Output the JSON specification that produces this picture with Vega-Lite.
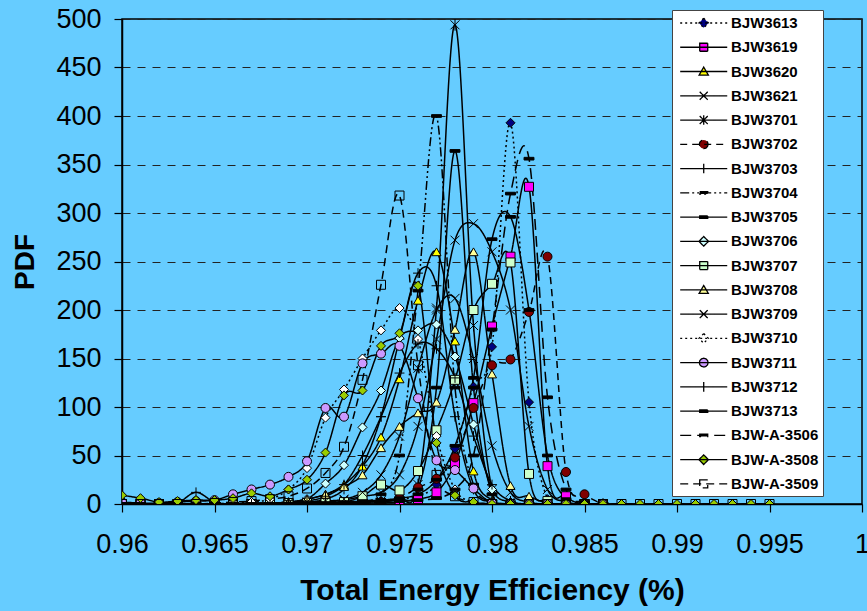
{
"$schema":"https://vega.github.io/schema/vega-lite/v6.json",
"width":740,"height":485,
"autosize":{"type":"none"},
"padding":{"left":122,"top":19,"right":5,"bottom":107},
"background":"#66ccff",
"config":{"view":{"stroke":"black","strokeWidth":1.5},"font":"Liberation Sans"},
"data":{"values":[
{"s":"BJW3613","x":0.96,"y":0},{"s":"BJW3613","x":0.961,"y":0},{"s":"BJW3613","x":0.962,"y":0},{"s":"BJW3613","x":0.963,"y":0},{"s":"BJW3613","x":0.964,"y":0},{"s":"BJW3613","x":0.965,"y":0},{"s":"BJW3613","x":0.966,"y":0},{"s":"BJW3613","x":0.967,"y":0},{"s":"BJW3613","x":0.968,"y":0},{"s":"BJW3613","x":0.969,"y":0},{"s":"BJW3613","x":0.97,"y":1},{"s":"BJW3613","x":0.971,"y":1},{"s":"BJW3613","x":0.972,"y":2},{"s":"BJW3613","x":0.973,"y":2},{"s":"BJW3613","x":0.974,"y":3},{"s":"BJW3613","x":0.975,"y":5},{"s":"BJW3613","x":0.976,"y":8},{"s":"BJW3613","x":0.977,"y":20},{"s":"BJW3613","x":0.978,"y":57},{"s":"BJW3613","x":0.979,"y":121},{"s":"BJW3613","x":0.98,"y":162},{"s":"BJW3613","x":0.981,"y":393},{"s":"BJW3613","x":0.982,"y":105},{"s":"BJW3613","x":0.983,"y":5},{"s":"BJW3613","x":0.984,"y":1},{"s":"BJW3613","x":0.985,"y":0},{"s":"BJW3613","x":0.986,"y":0},
{"s":"BJW3619","x":0.96,"y":0},{"s":"BJW3619","x":0.961,"y":0},{"s":"BJW3619","x":0.962,"y":0},{"s":"BJW3619","x":0.963,"y":0},{"s":"BJW3619","x":0.964,"y":0},{"s":"BJW3619","x":0.965,"y":0},{"s":"BJW3619","x":0.966,"y":0},{"s":"BJW3619","x":0.967,"y":0},{"s":"BJW3619","x":0.968,"y":0},{"s":"BJW3619","x":0.969,"y":0},{"s":"BJW3619","x":0.97,"y":1},{"s":"BJW3619","x":0.971,"y":1},{"s":"BJW3619","x":0.972,"y":1},{"s":"BJW3619","x":0.973,"y":1},{"s":"BJW3619","x":0.974,"y":1},{"s":"BJW3619","x":0.975,"y":2},{"s":"BJW3619","x":0.976,"y":5},{"s":"BJW3619","x":0.977,"y":12},{"s":"BJW3619","x":0.978,"y":42},{"s":"BJW3619","x":0.979,"y":104},{"s":"BJW3619","x":0.98,"y":183},{"s":"BJW3619","x":0.981,"y":255},{"s":"BJW3619","x":0.982,"y":327},{"s":"BJW3619","x":0.983,"y":39},{"s":"BJW3619","x":0.984,"y":8},{"s":"BJW3619","x":0.985,"y":0},{"s":"BJW3619","x":0.986,"y":0},
{"s":"BJW3620","x":0.96,"y":0},{"s":"BJW3620","x":0.961,"y":0},{"s":"BJW3620","x":0.962,"y":0},{"s":"BJW3620","x":0.963,"y":0},{"s":"BJW3620","x":0.964,"y":0},{"s":"BJW3620","x":0.965,"y":0},{"s":"BJW3620","x":0.966,"y":0},{"s":"BJW3620","x":0.967,"y":1},{"s":"BJW3620","x":0.968,"y":1},{"s":"BJW3620","x":0.969,"y":2},{"s":"BJW3620","x":0.97,"y":5},{"s":"BJW3620","x":0.971,"y":10},{"s":"BJW3620","x":0.972,"y":20},{"s":"BJW3620","x":0.973,"y":39},{"s":"BJW3620","x":0.974,"y":69},{"s":"BJW3620","x":0.975,"y":129},{"s":"BJW3620","x":0.976,"y":210},{"s":"BJW3620","x":0.977,"y":260},{"s":"BJW3620","x":0.978,"y":168},{"s":"BJW3620","x":0.979,"y":34},{"s":"BJW3620","x":0.98,"y":4},{"s":"BJW3620","x":0.981,"y":0},{"s":"BJW3620","x":0.982,"y":0},{"s":"BJW3620","x":0.983,"y":0},{"s":"BJW3620","x":0.984,"y":0},{"s":"BJW3620","x":0.985,"y":0},{"s":"BJW3620","x":0.986,"y":0},
{"s":"BJW3621","x":0.96,"y":0},{"s":"BJW3621","x":0.961,"y":0},{"s":"BJW3621","x":0.962,"y":0},{"s":"BJW3621","x":0.963,"y":0},{"s":"BJW3621","x":0.964,"y":0},{"s":"BJW3621","x":0.965,"y":0},{"s":"BJW3621","x":0.966,"y":0},{"s":"BJW3621","x":0.967,"y":0},{"s":"BJW3621","x":0.968,"y":0},{"s":"BJW3621","x":0.969,"y":0},{"s":"BJW3621","x":0.97,"y":1},{"s":"BJW3621","x":0.971,"y":2},{"s":"BJW3621","x":0.972,"y":4},{"s":"BJW3621","x":0.973,"y":8},{"s":"BJW3621","x":0.974,"y":12},{"s":"BJW3621","x":0.975,"y":30},{"s":"BJW3621","x":0.976,"y":80},{"s":"BJW3621","x":0.977,"y":170},{"s":"BJW3621","x":0.978,"y":272},{"s":"BJW3621","x":0.979,"y":289},{"s":"BJW3621","x":0.98,"y":260},{"s":"BJW3621","x":0.981,"y":200},{"s":"BJW3621","x":0.982,"y":80},{"s":"BJW3621","x":0.983,"y":15},{"s":"BJW3621","x":0.984,"y":2},{"s":"BJW3621","x":0.985,"y":0},{"s":"BJW3621","x":0.986,"y":0},
{"s":"BJW3701","x":0.96,"y":0},{"s":"BJW3701","x":0.961,"y":0},{"s":"BJW3701","x":0.962,"y":0},{"s":"BJW3701","x":0.963,"y":0},{"s":"BJW3701","x":0.964,"y":0},{"s":"BJW3701","x":0.965,"y":0},{"s":"BJW3701","x":0.966,"y":0},{"s":"BJW3701","x":0.967,"y":0},{"s":"BJW3701","x":0.968,"y":0},{"s":"BJW3701","x":0.969,"y":0},{"s":"BJW3701","x":0.97,"y":0},{"s":"BJW3701","x":0.971,"y":1},{"s":"BJW3701","x":0.972,"y":1},{"s":"BJW3701","x":0.973,"y":2},{"s":"BJW3701","x":0.974,"y":3},{"s":"BJW3701","x":0.975,"y":5},{"s":"BJW3701","x":0.976,"y":20},{"s":"BJW3701","x":0.977,"y":202},{"s":"BJW3701","x":0.978,"y":494},{"s":"BJW3701","x":0.979,"y":184},{"s":"BJW3701","x":0.98,"y":15},{"s":"BJW3701","x":0.981,"y":2},{"s":"BJW3701","x":0.982,"y":0},{"s":"BJW3701","x":0.983,"y":0},{"s":"BJW3701","x":0.984,"y":0},{"s":"BJW3701","x":0.985,"y":0},{"s":"BJW3701","x":0.986,"y":0},
{"s":"BJW3702","x":0.96,"y":0},{"s":"BJW3702","x":0.961,"y":0},{"s":"BJW3702","x":0.962,"y":0},{"s":"BJW3702","x":0.963,"y":0},{"s":"BJW3702","x":0.964,"y":0},{"s":"BJW3702","x":0.965,"y":0},{"s":"BJW3702","x":0.966,"y":0},{"s":"BJW3702","x":0.967,"y":0},{"s":"BJW3702","x":0.968,"y":0},{"s":"BJW3702","x":0.969,"y":0},{"s":"BJW3702","x":0.97,"y":0},{"s":"BJW3702","x":0.971,"y":1},{"s":"BJW3702","x":0.972,"y":1},{"s":"BJW3702","x":0.973,"y":1},{"s":"BJW3702","x":0.974,"y":2},{"s":"BJW3702","x":0.975,"y":6},{"s":"BJW3702","x":0.976,"y":17},{"s":"BJW3702","x":0.977,"y":26},{"s":"BJW3702","x":0.978,"y":48},{"s":"BJW3702","x":0.979,"y":99},{"s":"BJW3702","x":0.98,"y":143},{"s":"BJW3702","x":0.981,"y":149},{"s":"BJW3702","x":0.982,"y":198},{"s":"BJW3702","x":0.983,"y":255},{"s":"BJW3702","x":0.984,"y":33},{"s":"BJW3702","x":0.985,"y":10},{"s":"BJW3702","x":0.986,"y":0},
{"s":"BJW3703","x":0.96,"y":0},{"s":"BJW3703","x":0.961,"y":0},{"s":"BJW3703","x":0.962,"y":0},{"s":"BJW3703","x":0.963,"y":1},{"s":"BJW3703","x":0.964,"y":12},{"s":"BJW3703","x":0.965,"y":2},{"s":"BJW3703","x":0.966,"y":0},{"s":"BJW3703","x":0.967,"y":0},{"s":"BJW3703","x":0.968,"y":0},{"s":"BJW3703","x":0.969,"y":1},{"s":"BJW3703","x":0.97,"y":2},{"s":"BJW3703","x":0.971,"y":5},{"s":"BJW3703","x":0.972,"y":15},{"s":"BJW3703","x":0.973,"y":40},{"s":"BJW3703","x":0.974,"y":90},{"s":"BJW3703","x":0.975,"y":170},{"s":"BJW3703","x":0.976,"y":238},{"s":"BJW3703","x":0.977,"y":225},{"s":"BJW3703","x":0.978,"y":90},{"s":"BJW3703","x":0.979,"y":15},{"s":"BJW3703","x":0.98,"y":2},{"s":"BJW3703","x":0.981,"y":0},{"s":"BJW3703","x":0.982,"y":0},{"s":"BJW3703","x":0.983,"y":0},{"s":"BJW3703","x":0.984,"y":0},{"s":"BJW3703","x":0.985,"y":0},{"s":"BJW3703","x":0.986,"y":0},
{"s":"BJW3704","x":0.96,"y":0},{"s":"BJW3704","x":0.961,"y":0},{"s":"BJW3704","x":0.962,"y":0},{"s":"BJW3704","x":0.963,"y":0},{"s":"BJW3704","x":0.964,"y":0},{"s":"BJW3704","x":0.965,"y":0},{"s":"BJW3704","x":0.966,"y":0},{"s":"BJW3704","x":0.967,"y":0},{"s":"BJW3704","x":0.968,"y":0},{"s":"BJW3704","x":0.969,"y":0},{"s":"BJW3704","x":0.97,"y":0},{"s":"BJW3704","x":0.971,"y":1},{"s":"BJW3704","x":0.972,"y":2},{"s":"BJW3704","x":0.973,"y":3},{"s":"BJW3704","x":0.974,"y":10},{"s":"BJW3704","x":0.975,"y":50},{"s":"BJW3704","x":0.976,"y":220},{"s":"BJW3704","x":0.977,"y":400},{"s":"BJW3704","x":0.978,"y":120},{"s":"BJW3704","x":0.979,"y":20},{"s":"BJW3704","x":0.98,"y":3},{"s":"BJW3704","x":0.981,"y":0},{"s":"BJW3704","x":0.982,"y":0},{"s":"BJW3704","x":0.983,"y":0},{"s":"BJW3704","x":0.984,"y":0},{"s":"BJW3704","x":0.985,"y":0},{"s":"BJW3704","x":0.986,"y":0},
{"s":"BJW3705","x":0.96,"y":0},{"s":"BJW3705","x":0.961,"y":0},{"s":"BJW3705","x":0.962,"y":0},{"s":"BJW3705","x":0.963,"y":0},{"s":"BJW3705","x":0.964,"y":0},{"s":"BJW3705","x":0.965,"y":0},{"s":"BJW3705","x":0.966,"y":0},{"s":"BJW3705","x":0.967,"y":0},{"s":"BJW3705","x":0.968,"y":0},{"s":"BJW3705","x":0.969,"y":0},{"s":"BJW3705","x":0.97,"y":0},{"s":"BJW3705","x":0.971,"y":1},{"s":"BJW3705","x":0.972,"y":1},{"s":"BJW3705","x":0.973,"y":2},{"s":"BJW3705","x":0.974,"y":3},{"s":"BJW3705","x":0.975,"y":5},{"s":"BJW3705","x":0.976,"y":15},{"s":"BJW3705","x":0.977,"y":120},{"s":"BJW3705","x":0.978,"y":364},{"s":"BJW3705","x":0.979,"y":120},{"s":"BJW3705","x":0.98,"y":10},{"s":"BJW3705","x":0.981,"y":1},{"s":"BJW3705","x":0.982,"y":0},{"s":"BJW3705","x":0.983,"y":0},{"s":"BJW3705","x":0.984,"y":0},{"s":"BJW3705","x":0.985,"y":0},{"s":"BJW3705","x":0.986,"y":0},
{"s":"BJW3706","x":0.96,"y":0},{"s":"BJW3706","x":0.961,"y":0},{"s":"BJW3706","x":0.962,"y":0},{"s":"BJW3706","x":0.963,"y":0},{"s":"BJW3706","x":0.964,"y":0},{"s":"BJW3706","x":0.965,"y":0},{"s":"BJW3706","x":0.966,"y":0},{"s":"BJW3706","x":0.967,"y":1},{"s":"BJW3706","x":0.968,"y":1},{"s":"BJW3706","x":0.969,"y":2},{"s":"BJW3706","x":0.97,"y":5},{"s":"BJW3706","x":0.971,"y":21},{"s":"BJW3706","x":0.972,"y":40},{"s":"BJW3706","x":0.973,"y":79},{"s":"BJW3706","x":0.974,"y":117},{"s":"BJW3706","x":0.975,"y":171},{"s":"BJW3706","x":0.976,"y":179},{"s":"BJW3706","x":0.977,"y":185},{"s":"BJW3706","x":0.978,"y":152},{"s":"BJW3706","x":0.979,"y":82},{"s":"BJW3706","x":0.98,"y":15},{"s":"BJW3706","x":0.981,"y":2},{"s":"BJW3706","x":0.982,"y":0},{"s":"BJW3706","x":0.983,"y":0},{"s":"BJW3706","x":0.984,"y":0},{"s":"BJW3706","x":0.985,"y":0},{"s":"BJW3706","x":0.986,"y":0},
{"s":"BJW3707","x":0.96,"y":0},{"s":"BJW3707","x":0.961,"y":0},{"s":"BJW3707","x":0.962,"y":0},{"s":"BJW3707","x":0.963,"y":0},{"s":"BJW3707","x":0.964,"y":0},{"s":"BJW3707","x":0.965,"y":0},{"s":"BJW3707","x":0.966,"y":0},{"s":"BJW3707","x":0.967,"y":0},{"s":"BJW3707","x":0.968,"y":0},{"s":"BJW3707","x":0.969,"y":1},{"s":"BJW3707","x":0.97,"y":1},{"s":"BJW3707","x":0.971,"y":1},{"s":"BJW3707","x":0.972,"y":2},{"s":"BJW3707","x":0.973,"y":8},{"s":"BJW3707","x":0.974,"y":20},{"s":"BJW3707","x":0.975,"y":14},{"s":"BJW3707","x":0.976,"y":34},{"s":"BJW3707","x":0.977,"y":76},{"s":"BJW3707","x":0.978,"y":128},{"s":"BJW3707","x":0.979,"y":200},{"s":"BJW3707","x":0.98,"y":227},{"s":"BJW3707","x":0.981,"y":249},{"s":"BJW3707","x":0.982,"y":31},{"s":"BJW3707","x":0.983,"y":3},{"s":"BJW3707","x":0.984,"y":0},{"s":"BJW3707","x":0.985,"y":0},{"s":"BJW3707","x":0.986,"y":0},
{"s":"BJW3708","x":0.96,"y":0},{"s":"BJW3708","x":0.961,"y":0},{"s":"BJW3708","x":0.962,"y":0},{"s":"BJW3708","x":0.963,"y":0},{"s":"BJW3708","x":0.964,"y":0},{"s":"BJW3708","x":0.965,"y":0},{"s":"BJW3708","x":0.966,"y":0},{"s":"BJW3708","x":0.967,"y":0},{"s":"BJW3708","x":0.968,"y":1},{"s":"BJW3708","x":0.969,"y":2},{"s":"BJW3708","x":0.97,"y":5},{"s":"BJW3708","x":0.971,"y":10},{"s":"BJW3708","x":0.972,"y":18},{"s":"BJW3708","x":0.973,"y":30},{"s":"BJW3708","x":0.974,"y":58},{"s":"BJW3708","x":0.975,"y":80},{"s":"BJW3708","x":0.976,"y":94},{"s":"BJW3708","x":0.977,"y":105},{"s":"BJW3708","x":0.978,"y":180},{"s":"BJW3708","x":0.979,"y":260},{"s":"BJW3708","x":0.98,"y":134},{"s":"BJW3708","x":0.981,"y":19},{"s":"BJW3708","x":0.982,"y":8},{"s":"BJW3708","x":0.983,"y":1},{"s":"BJW3708","x":0.984,"y":0},{"s":"BJW3708","x":0.985,"y":0},{"s":"BJW3708","x":0.986,"y":0},
{"s":"BJW3709","x":0.96,"y":0},{"s":"BJW3709","x":0.961,"y":0},{"s":"BJW3709","x":0.962,"y":0},{"s":"BJW3709","x":0.963,"y":0},{"s":"BJW3709","x":0.964,"y":0},{"s":"BJW3709","x":0.965,"y":0},{"s":"BJW3709","x":0.966,"y":0},{"s":"BJW3709","x":0.967,"y":0},{"s":"BJW3709","x":0.968,"y":0},{"s":"BJW3709","x":0.969,"y":1},{"s":"BJW3709","x":0.97,"y":2},{"s":"BJW3709","x":0.971,"y":3},{"s":"BJW3709","x":0.972,"y":5},{"s":"BJW3709","x":0.973,"y":12},{"s":"BJW3709","x":0.974,"y":30},{"s":"BJW3709","x":0.975,"y":70},{"s":"BJW3709","x":0.976,"y":140},{"s":"BJW3709","x":0.977,"y":200},{"s":"BJW3709","x":0.978,"y":212},{"s":"BJW3709","x":0.979,"y":150},{"s":"BJW3709","x":0.98,"y":60},{"s":"BJW3709","x":0.981,"y":12},{"s":"BJW3709","x":0.982,"y":2},{"s":"BJW3709","x":0.983,"y":0},{"s":"BJW3709","x":0.984,"y":0},{"s":"BJW3709","x":0.985,"y":0},{"s":"BJW3709","x":0.986,"y":0},
{"s":"BJW3710","x":0.96,"y":0},{"s":"BJW3710","x":0.961,"y":0},{"s":"BJW3710","x":0.962,"y":0},{"s":"BJW3710","x":0.963,"y":0},{"s":"BJW3710","x":0.964,"y":0},{"s":"BJW3710","x":0.965,"y":0},{"s":"BJW3710","x":0.966,"y":1},{"s":"BJW3710","x":0.967,"y":2},{"s":"BJW3710","x":0.968,"y":5},{"s":"BJW3710","x":0.969,"y":15},{"s":"BJW3710","x":0.97,"y":37},{"s":"BJW3710","x":0.971,"y":89},{"s":"BJW3710","x":0.972,"y":118},{"s":"BJW3710","x":0.973,"y":150},{"s":"BJW3710","x":0.974,"y":179},{"s":"BJW3710","x":0.975,"y":202},{"s":"BJW3710","x":0.976,"y":170},{"s":"BJW3710","x":0.977,"y":70},{"s":"BJW3710","x":0.978,"y":15},{"s":"BJW3710","x":0.979,"y":2},{"s":"BJW3710","x":0.98,"y":0},{"s":"BJW3710","x":0.981,"y":0},{"s":"BJW3710","x":0.982,"y":0},{"s":"BJW3710","x":0.983,"y":0},{"s":"BJW3710","x":0.984,"y":0},{"s":"BJW3710","x":0.985,"y":0},{"s":"BJW3710","x":0.986,"y":0},
{"s":"BJW3711","x":0.96,"y":2},{"s":"BJW3711","x":0.961,"y":1},{"s":"BJW3711","x":0.962,"y":1},{"s":"BJW3711","x":0.963,"y":2},{"s":"BJW3711","x":0.964,"y":3},{"s":"BJW3711","x":0.965,"y":4},{"s":"BJW3711","x":0.966,"y":10},{"s":"BJW3711","x":0.967,"y":15},{"s":"BJW3711","x":0.968,"y":20},{"s":"BJW3711","x":0.969,"y":28},{"s":"BJW3711","x":0.97,"y":44},{"s":"BJW3711","x":0.971,"y":99},{"s":"BJW3711","x":0.972,"y":90},{"s":"BJW3711","x":0.973,"y":145},{"s":"BJW3711","x":0.974,"y":155},{"s":"BJW3711","x":0.975,"y":163},{"s":"BJW3711","x":0.976,"y":109},{"s":"BJW3711","x":0.977,"y":45},{"s":"BJW3711","x":0.978,"y":35},{"s":"BJW3711","x":0.979,"y":16},{"s":"BJW3711","x":0.98,"y":1},{"s":"BJW3711","x":0.981,"y":0},{"s":"BJW3711","x":0.982,"y":0},{"s":"BJW3711","x":0.983,"y":0},{"s":"BJW3711","x":0.984,"y":0},{"s":"BJW3711","x":0.985,"y":0},{"s":"BJW3711","x":0.986,"y":0},
{"s":"BJW3712","x":0.96,"y":0},{"s":"BJW3712","x":0.961,"y":0},{"s":"BJW3712","x":0.962,"y":0},{"s":"BJW3712","x":0.963,"y":0},{"s":"BJW3712","x":0.964,"y":0},{"s":"BJW3712","x":0.965,"y":0},{"s":"BJW3712","x":0.966,"y":0},{"s":"BJW3712","x":0.967,"y":0},{"s":"BJW3712","x":0.968,"y":0},{"s":"BJW3712","x":0.969,"y":1},{"s":"BJW3712","x":0.97,"y":3},{"s":"BJW3712","x":0.971,"y":8},{"s":"BJW3712","x":0.972,"y":20},{"s":"BJW3712","x":0.973,"y":50},{"s":"BJW3712","x":0.974,"y":90},{"s":"BJW3712","x":0.975,"y":135},{"s":"BJW3712","x":0.976,"y":165},{"s":"BJW3712","x":0.977,"y":160},{"s":"BJW3712","x":0.978,"y":130},{"s":"BJW3712","x":0.979,"y":70},{"s":"BJW3712","x":0.98,"y":20},{"s":"BJW3712","x":0.981,"y":3},{"s":"BJW3712","x":0.982,"y":0},{"s":"BJW3712","x":0.983,"y":0},{"s":"BJW3712","x":0.984,"y":0},{"s":"BJW3712","x":0.985,"y":0},{"s":"BJW3712","x":0.986,"y":0},
{"s":"BJW3713","x":0.96,"y":0},{"s":"BJW3713","x":0.961,"y":0},{"s":"BJW3713","x":0.962,"y":0},{"s":"BJW3713","x":0.963,"y":0},{"s":"BJW3713","x":0.964,"y":0},{"s":"BJW3713","x":0.965,"y":0},{"s":"BJW3713","x":0.966,"y":0},{"s":"BJW3713","x":0.967,"y":0},{"s":"BJW3713","x":0.968,"y":0},{"s":"BJW3713","x":0.969,"y":0},{"s":"BJW3713","x":0.97,"y":1},{"s":"BJW3713","x":0.971,"y":1},{"s":"BJW3713","x":0.972,"y":2},{"s":"BJW3713","x":0.973,"y":3},{"s":"BJW3713","x":0.974,"y":4},{"s":"BJW3713","x":0.975,"y":6},{"s":"BJW3713","x":0.976,"y":10},{"s":"BJW3713","x":0.977,"y":25},{"s":"BJW3713","x":0.978,"y":60},{"s":"BJW3713","x":0.979,"y":130},{"s":"BJW3713","x":0.98,"y":273},{"s":"BJW3713","x":0.981,"y":296},{"s":"BJW3713","x":0.982,"y":200},{"s":"BJW3713","x":0.983,"y":50},{"s":"BJW3713","x":0.984,"y":5},{"s":"BJW3713","x":0.985,"y":0},{"s":"BJW3713","x":0.986,"y":0},
{"s":"BJW-A-3506","x":0.96,"y":0},{"s":"BJW-A-3506","x":0.961,"y":0},{"s":"BJW-A-3506","x":0.962,"y":0},{"s":"BJW-A-3506","x":0.963,"y":0},{"s":"BJW-A-3506","x":0.964,"y":0},{"s":"BJW-A-3506","x":0.965,"y":0},{"s":"BJW-A-3506","x":0.966,"y":0},{"s":"BJW-A-3506","x":0.967,"y":0},{"s":"BJW-A-3506","x":0.968,"y":0},{"s":"BJW-A-3506","x":0.969,"y":0},{"s":"BJW-A-3506","x":0.97,"y":0},{"s":"BJW-A-3506","x":0.971,"y":0},{"s":"BJW-A-3506","x":0.972,"y":1},{"s":"BJW-A-3506","x":0.973,"y":1},{"s":"BJW-A-3506","x":0.974,"y":2},{"s":"BJW-A-3506","x":0.975,"y":3},{"s":"BJW-A-3506","x":0.976,"y":4},{"s":"BJW-A-3506","x":0.977,"y":6},{"s":"BJW-A-3506","x":0.978,"y":15},{"s":"BJW-A-3506","x":0.979,"y":50},{"s":"BJW-A-3506","x":0.98,"y":180},{"s":"BJW-A-3506","x":0.981,"y":320},{"s":"BJW-A-3506","x":0.982,"y":356},{"s":"BJW-A-3506","x":0.983,"y":110},{"s":"BJW-A-3506","x":0.984,"y":15},{"s":"BJW-A-3506","x":0.985,"y":2},{"s":"BJW-A-3506","x":0.986,"y":0},
{"s":"BJW-A-3508","x":0.96,"y":9},{"s":"BJW-A-3508","x":0.961,"y":6},{"s":"BJW-A-3508","x":0.962,"y":2},{"s":"BJW-A-3508","x":0.963,"y":3},{"s":"BJW-A-3508","x":0.964,"y":4},{"s":"BJW-A-3508","x":0.965,"y":4},{"s":"BJW-A-3508","x":0.966,"y":6},{"s":"BJW-A-3508","x":0.967,"y":11},{"s":"BJW-A-3508","x":0.968,"y":8},{"s":"BJW-A-3508","x":0.969,"y":15},{"s":"BJW-A-3508","x":0.97,"y":25},{"s":"BJW-A-3508","x":0.971,"y":53},{"s":"BJW-A-3508","x":0.972,"y":112},{"s":"BJW-A-3508","x":0.973,"y":117},{"s":"BJW-A-3508","x":0.974,"y":163},{"s":"BJW-A-3508","x":0.975,"y":176},{"s":"BJW-A-3508","x":0.976,"y":225},{"s":"BJW-A-3508","x":0.977,"y":63},{"s":"BJW-A-3508","x":0.978,"y":9},{"s":"BJW-A-3508","x":0.979,"y":2},{"s":"BJW-A-3508","x":0.98,"y":0},{"s":"BJW-A-3508","x":0.981,"y":0},{"s":"BJW-A-3508","x":0.982,"y":0},{"s":"BJW-A-3508","x":0.983,"y":0},{"s":"BJW-A-3508","x":0.984,"y":0},{"s":"BJW-A-3508","x":0.985,"y":0},{"s":"BJW-A-3508","x":0.986,"y":0},{"s":"BJW-A-3508","x":0.987,"y":0},{"s":"BJW-A-3508","x":0.988,"y":0},{"s":"BJW-A-3508","x":0.989,"y":0},{"s":"BJW-A-3508","x":0.99,"y":0},{"s":"BJW-A-3508","x":0.991,"y":0},{"s":"BJW-A-3508","x":0.992,"y":0},{"s":"BJW-A-3508","x":0.993,"y":0},{"s":"BJW-A-3508","x":0.994,"y":0},{"s":"BJW-A-3508","x":0.995,"y":0},
{"s":"BJW-A-3509","x":0.96,"y":0},{"s":"BJW-A-3509","x":0.961,"y":0},{"s":"BJW-A-3509","x":0.962,"y":0},{"s":"BJW-A-3509","x":0.963,"y":0},{"s":"BJW-A-3509","x":0.964,"y":0},{"s":"BJW-A-3509","x":0.965,"y":1},{"s":"BJW-A-3509","x":0.966,"y":2},{"s":"BJW-A-3509","x":0.967,"y":3},{"s":"BJW-A-3509","x":0.968,"y":5},{"s":"BJW-A-3509","x":0.969,"y":8},{"s":"BJW-A-3509","x":0.97,"y":16},{"s":"BJW-A-3509","x":0.971,"y":32},{"s":"BJW-A-3509","x":0.972,"y":59},{"s":"BJW-A-3509","x":0.973,"y":128},{"s":"BJW-A-3509","x":0.974,"y":226},{"s":"BJW-A-3509","x":0.975,"y":318},{"s":"BJW-A-3509","x":0.976,"y":143},{"s":"BJW-A-3509","x":0.977,"y":30},{"s":"BJW-A-3509","x":0.978,"y":8},{"s":"BJW-A-3509","x":0.979,"y":2},{"s":"BJW-A-3509","x":0.98,"y":0},{"s":"BJW-A-3509","x":0.981,"y":0},{"s":"BJW-A-3509","x":0.982,"y":0},{"s":"BJW-A-3509","x":0.983,"y":0},{"s":"BJW-A-3509","x":0.984,"y":0},{"s":"BJW-A-3509","x":0.985,"y":0},{"s":"BJW-A-3509","x":0.986,"y":0},{"s":"BJW-A-3509","x":0.987,"y":0},{"s":"BJW-A-3509","x":0.988,"y":0},{"s":"BJW-A-3509","x":0.989,"y":0},{"s":"BJW-A-3509","x":0.99,"y":0},{"s":"BJW-A-3509","x":0.991,"y":0},{"s":"BJW-A-3509","x":0.992,"y":0},{"s":"BJW-A-3509","x":0.993,"y":0},{"s":"BJW-A-3509","x":0.994,"y":0},{"s":"BJW-A-3509","x":0.995,"y":0}
]},
"encoding":{
"x":{"field":"x","type":"quantitative","scale":{"domain":[0.96,1],"nice":false,"zero":false},
 "axis":{"values":[0.96,0.965,0.97,0.975,0.98,0.985,0.99,0.995,1],"format":".3~f","title":"Total Energy Efficiency (%)","grid":false,"tickSize":8,"tickColor":"black","tickWidth":1.2,"domainColor":"black","domainWidth":1.5,"labelFont":"Liberation Sans","labelFontSize":27,"labelColor":"black","labelPadding":19,"labelFlush":false,"labelOverlap":false,"titleFont":"Liberation Sans","titleFontSize":30,"titleFontWeight":"bold","titleColor":"black","titlePadding":18}},
"y":{"field":"y","type":"quantitative","scale":{"domain":[0,500],"nice":false},
 "axis":{"values":[0,50,100,150,200,250,300,350,400,450,500],"title":"PDF","grid":true,"gridColor":"#222222","gridDash":[8,7],"gridWidth":1.2,"tickSize":8,"tickColor":"black","tickWidth":1.2,"domainColor":"black","domainWidth":1.5,"labelFont":"Liberation Sans","labelFontSize":27,"labelColor":"black","labelPadding":13,"titleFont":"Liberation Sans","titleFontSize":28,"titleFontWeight":"bold","titleColor":"black","titlePadding":16}}
},
"layer":[
{"mark":{"type":"line","stroke":"black","strokeWidth":1.5,"interpolate":"cardinal","tension":0,"clip":true},
 "encoding":{"strokeDash":{"field":"s","type":"nominal","legend":null,
  "scale":{"domain":["BJW3613","BJW3619","BJW3620","BJW3621","BJW3701","BJW3702","BJW3703","BJW3704","BJW3705","BJW3706","BJW3707","BJW3708","BJW3709","BJW3710","BJW3711","BJW3712","BJW3713","BJW-A-3506","BJW-A-3508","BJW-A-3509"],
  "range":[[2,3],[1,0],[1,0],[1,0],[1,0],[7,5],[1,0],[9,3,2,3,2,3],[1,0],[1,0],[1,0],[1,0],[1,0],[2,3],[1,0],[1,0],[1,0],[11,6],[1,0],[8,5]]}}}},
{"mark":{"type":"point","filled":true,"stroke":"black","strokeWidth":1,"size":81,"opacity":1,"clip":true},
 "encoding":{
  "shape":{"field":"s","type":"nominal","legend":null,
   "scale":{"domain":["BJW3613","BJW3619","BJW3620","BJW3621","BJW3701","BJW3702","BJW3703","BJW3704","BJW3705","BJW3706","BJW3707","BJW3708","BJW3709","BJW3710","BJW3711","BJW3712","BJW3713","BJW-A-3506","BJW-A-3508","BJW-A-3509"],
   "range":["diamond","square","triangle-up","M-1,-1L1,1M-1,1L1,-1","M-1,-1L1,1M-1,1L1,-1M0,-1.3V1.3","circle","M-1.1,0H1.1M0,-1.1V1.1","M-1.1,-0.3H1.1V0.3H-1.1Z","M-1.1,-0.3H1.1V0.3H-1.1Z","diamond","square","triangle-up","M-1,-1L1,1M-1,1L1,-1","diamond","circle","M-1.1,0H1.1M0,-1.1V1.1","M-1.1,-0.3H1.1V0.3H-1.1Z","M-1.1,-0.3H1.1V0.3H-1.1Z","diamond","square"]}},
  "fill":{"field":"s","type":"nominal","legend":null,
   "scale":{"domain":["BJW3613","BJW3619","BJW3620","BJW3621","BJW3701","BJW3702","BJW3703","BJW3704","BJW3705","BJW3706","BJW3707","BJW3708","BJW3709","BJW3710","BJW3711","BJW3712","BJW3713","BJW-A-3506","BJW-A-3508","BJW-A-3509"],
   "range":["#000080","#ff00ff","#ffff00","#000000","#000000","#800000","#000000","#000000","#000000","#ccffff","#ccffcc","#ffff99","#000000","#ffffff","#cc99ff","#000000","#000000","#000000","#99cc00","transparent"]}}}},
{"mark":{"type":"point","filled":true,"stroke":"black","strokeWidth":1.2,"size":0},
 "encoding":{
  "shape":{"field":"s","type":"nominal",
   "legend":{"orient":"none","legendX":550,"legendY":-9,"title":null,"fillColor":"white","strokeColor":"#444444","padding":4,"rowPadding":7.26,"labelOffset":37,"symbolSize":256,"symbolStrokeWidth":1.3,"symbolStrokeColor":"black","symbolOpacity":1,"labelFont":"Liberation Sans","labelFontSize":15,"labelFontWeight":"bold","labelColor":"black","symbolLimit":40,"encode":{"symbols":{"update":{"stroke":{"value":"black"},"strokeWidth":{"value":1.3},"opacity":{"value":1}}}}},
   "scale":{"domain":["BJW3613","BJW3619","BJW3620","BJW3621","BJW3701","BJW3702","BJW3703","BJW3704","BJW3705","BJW3706","BJW3707","BJW3708","BJW3709","BJW3710","BJW3711","BJW3712","BJW3713","BJW-A-3506","BJW-A-3508","BJW-A-3509"],
   "range":[
    "M-0.6,0H5.28M2.34,-0.6L2.94,0L2.34,0.6L1.74,0Z",
    "M-0.6,0H5.28M1.84,-0.5H2.84V0.5H1.84Z",
    "M-0.6,0H5.28M2.34,-0.55L2.92,0.45H1.76Z",
    "M-0.6,0H5.28M1.84,-0.5L2.84,0.5M1.84,0.5L2.84,-0.5",
    "M-0.6,0H5.28M1.84,-0.5L2.84,0.5M1.84,0.5L2.84,-0.5M2.34,-0.6V0.6",
    "M-0.6,0H5.28M2.89,0L2.816,0.275L2.615,0.476L2.34,0.55L2.065,0.476L1.864,0.275L1.79,0L1.864,-0.275L2.065,-0.476L2.34,-0.55L2.615,-0.476L2.816,-0.275Z",
    "M-0.6,0H5.28M2.34,-0.6V0.6",
    "M-0.6,0H5.28M1.84,-0.15H2.84V0.15H1.84Z",
    "M-0.6,0H5.28M1.84,-0.15H2.84V0.15H1.84Z",
    "M-0.6,0H5.28M2.34,-0.6L2.94,0L2.34,0.6L1.74,0Z",
    "M-0.6,0H5.28M1.84,-0.5H2.84V0.5H1.84Z",
    "M-0.6,0H5.28M2.34,-0.55L2.92,0.45H1.76Z",
    "M-0.6,0H5.28M1.84,-0.5L2.84,0.5M1.84,0.5L2.84,-0.5",
    "M-0.6,0H5.28M2.34,-0.6L2.94,0L2.34,0.6L1.74,0Z",
    "M-0.6,0H5.28M2.89,0L2.816,0.275L2.615,0.476L2.34,0.55L2.065,0.476L1.864,0.275L1.79,0L1.864,-0.275L2.065,-0.476L2.34,-0.55L2.615,-0.476L2.816,-0.275Z",
    "M-0.6,0H5.28M2.34,-0.6V0.6",
    "M-0.6,0H5.28M1.84,-0.15H2.84V0.15H1.84Z",
    "M-0.6,0H5.28M1.84,-0.15H2.84V0.15H1.84Z",
    "M-0.6,0H5.28M2.34,-0.6L2.94,0L2.34,0.6L1.74,0Z",
    "M-0.6,0H5.28M1.84,-0.5H2.84V0.5H1.84Z"]}},
  "fill":{"field":"s","type":"nominal",
   "legend":{"orient":"none","legendX":550,"legendY":-9,"title":null,"fillColor":"white","strokeColor":"#444444","padding":4,"rowPadding":7.26,"labelOffset":37,"symbolSize":256,"symbolStrokeWidth":1.3,"symbolStrokeColor":"black","symbolOpacity":1,"labelFont":"Liberation Sans","labelFontSize":15,"labelFontWeight":"bold","labelColor":"black","symbolLimit":40,"encode":{"symbols":{"update":{"stroke":{"value":"black"},"strokeWidth":{"value":1.3},"opacity":{"value":1}}}}},
   "scale":{"domain":["BJW3613","BJW3619","BJW3620","BJW3621","BJW3701","BJW3702","BJW3703","BJW3704","BJW3705","BJW3706","BJW3707","BJW3708","BJW3709","BJW3710","BJW3711","BJW3712","BJW3713","BJW-A-3506","BJW-A-3508","BJW-A-3509"],
   "range":["#000080","#ff00ff","#ffff00","#000000","#000000","#800000","#000000","#000000","#000000","#ccffff","#ccffcc","#ffff99","#000000","#ffffff","#cc99ff","#000000","#000000","#000000","#99cc00","#ffffff"]}},
  "strokeDash":{"field":"s","type":"nominal",
   "legend":{"orient":"none","legendX":550,"legendY":-9,"title":null,"fillColor":"white","strokeColor":"#444444","padding":4,"rowPadding":7.26,"labelOffset":37,"symbolSize":256,"symbolStrokeWidth":1.3,"symbolStrokeColor":"black","symbolOpacity":1,"labelFont":"Liberation Sans","labelFontSize":15,"labelFontWeight":"bold","labelColor":"black","symbolLimit":40,"encode":{"symbols":{"update":{"stroke":{"value":"black"},"strokeWidth":{"value":1.3},"opacity":{"value":1}}}}},
   "scale":{"domain":["BJW3613","BJW3619","BJW3620","BJW3621","BJW3701","BJW3702","BJW3703","BJW3704","BJW3705","BJW3706","BJW3707","BJW3708","BJW3709","BJW3710","BJW3711","BJW3712","BJW3713","BJW-A-3506","BJW-A-3508","BJW-A-3509"],
   "range":[[2,3],[1,0],[1,0],[1,0],[1,0],[7,5],[1,0],[9,3,2,3,2,3],[1,0],[1,0],[1,0],[1,0],[1,0],[2,3],[1,0],[1,0],[1,0],[11,6],[1,0],[8,5]]}}}}
],
"resolve":{"scale":{"shape":"independent","fill":"independent","strokeDash":"independent"},"legend":{"shape":"independent","fill":"independent","strokeDash":"independent"}}
}
